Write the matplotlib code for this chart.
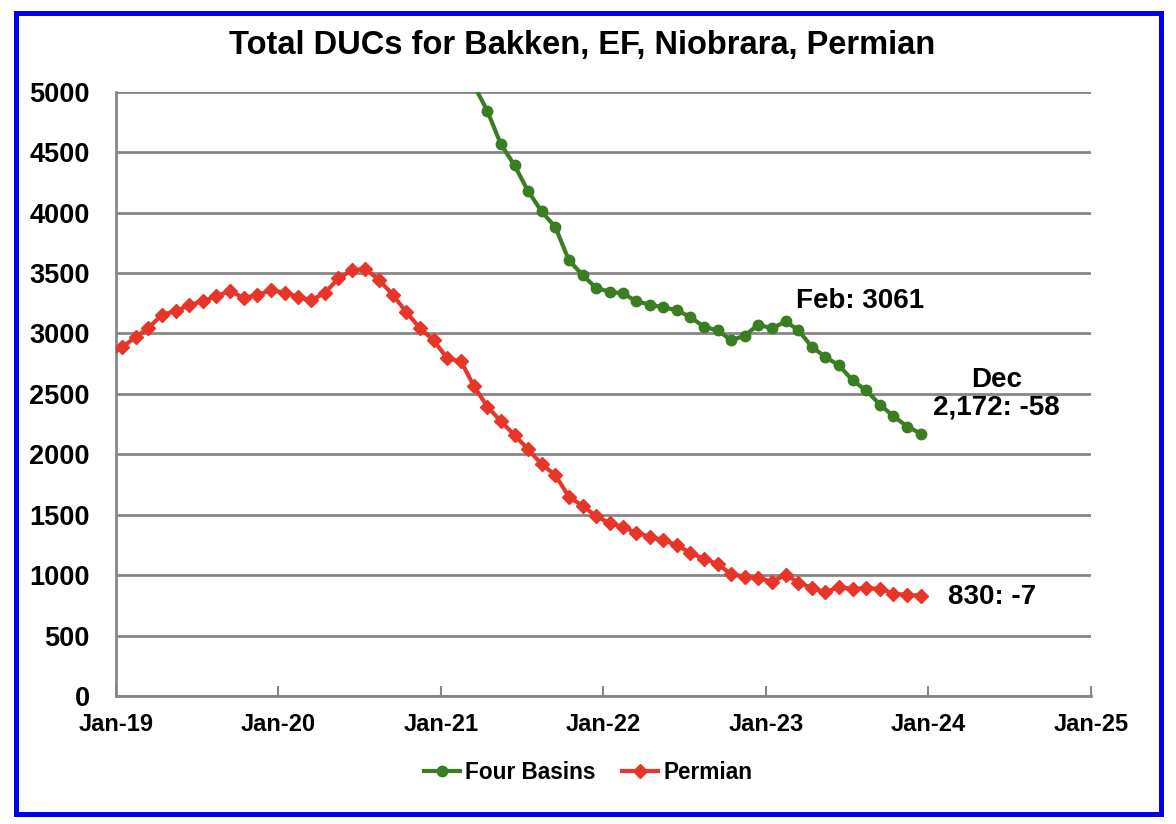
import matplotlib
matplotlib.use("Agg")
import matplotlib.pyplot as plt
import matplotlib.dates as mdates
from matplotlib.patches import Rectangle
import pandas as pd

plt.rcParams['font.family'] = ['Liberation Sans', 'DejaVu Sans']
plt.rcParams['font.weight'] = 'bold'

# monthly points, plotted mid-month
four_basins_months = pd.date_range('2021-03-01', '2023-12-01', freq='MS') + pd.Timedelta(days=14)
four_basins = [5060, 4840, 4568, 4391, 4181, 4009, 3879, 3607, 3483, 3378,
               3345, 3331, 3267, 3239, 3217, 3192, 3137, 3054, 3026, 2943, 2982, 3073,
               3042, 3100, 3026, 2888, 2805, 2735, 2611, 2528, 2409, 2315, 2230, 2172]

permian_months = pd.date_range('2018-12-01', '2023-12-01', freq='MS') + pd.Timedelta(days=14)
permian = [2810,
           2888, 2971, 3045, 3156, 3184, 3234, 3267, 3309, 3350, 3295, 3317, 3358,
           3336, 3303, 3275, 3336, 3455, 3524, 3532, 3441, 3317, 3175, 3042, 2943,
           2793, 2768, 2569, 2394, 2275, 2159, 2043, 1919, 1827, 1650, 1573, 1490,
           1429, 1398, 1351, 1318, 1290, 1249, 1185, 1135, 1092, 1009, 986, 977,
           945, 1005, 938, 894, 858, 903, 886, 894, 886, 847, 837, 830]

year_ticks = pd.date_range('2019-01-01', '2025-01-01', freq='YS')
y_ticks = list(range(0, 5001, 500))

GREEN = '#3a7d22'
RED = '#e8352a'
GRID = '#878787'

fig = plt.figure(figsize=(11.76, 8.24), dpi=100)
ax = fig.add_axes([0.0986, 0.1553, 0.8291, 0.7334])

ax.plot(four_basins_months, four_basins, color=GREEN, lw=3, marker='o', ms=7.5,
        label='Four Basins', zorder=3)
ax.plot(permian_months, permian, color=RED, lw=3, marker='D', ms=7,
        label='Permian', zorder=3)

ax.set_xlim(year_ticks[0], year_ticks[-1])
ax.set_ylim(0, 5000)
ax.set_yticks(y_ticks)
ax.set_xticks(year_ticks)
ax.xaxis.set_major_formatter(mdates.DateFormatter('%b-%y'))
ax.grid(axis='y', color=GRID, lw=2)
ax.set_axisbelow(True)

for s in ['top', 'right']:
    ax.spines[s].set_visible(False)
for s in ['left', 'bottom']:
    ax.spines[s].set_color(GRID)
    ax.spines[s].set_linewidth(2)

ax.tick_params(axis='y', length=0, labelsize=19.5, pad=19)
ax.tick_params(axis='x', direction='in', length=7, width=1.5, color=GRID,
               labelsize=17, pad=12)
for lab in ax.get_xticklabels() + ax.get_yticklabels():
    lab.set_fontweight('bold')

fig.text(0.495, 0.945, 'Total DUCs for Bakken, EF, Niobrara, Permian',
         ha='center', va='center', fontsize=23.5, fontweight='bold')

ax.text(pd.Timestamp('2023-03-10'), 3270, 'Feb: 3061', fontsize=20,
        fontweight='bold', ha='left', va='center')
ax.text(pd.Timestamp('2024-06-03'), 2500, 'Dec\n2,172: -58', fontsize=20,
        fontweight='bold', ha='center', va='center', linespacing=1.1)
ax.text(pd.Timestamp('2024-02-15'), 820, '830: -7', fontsize=20,
        fontweight='bold', ha='left', va='center')

leg = fig.legend(loc='center', bbox_to_anchor=(0.5, 0.063), ncol=2, frameon=False,
                 prop={'size': 16.3, 'weight': 'bold'}, handlelength=1.6,
                 handletextpad=0.2, columnspacing=1.2)

fig.add_artist(Rectangle((0.0132, 0.0121), 0.9738, 0.9727, transform=fig.transFigure,
                         fill=False, edgecolor='#0000ee', lw=3.6))

fig.savefig('out.png', dpi=100)
